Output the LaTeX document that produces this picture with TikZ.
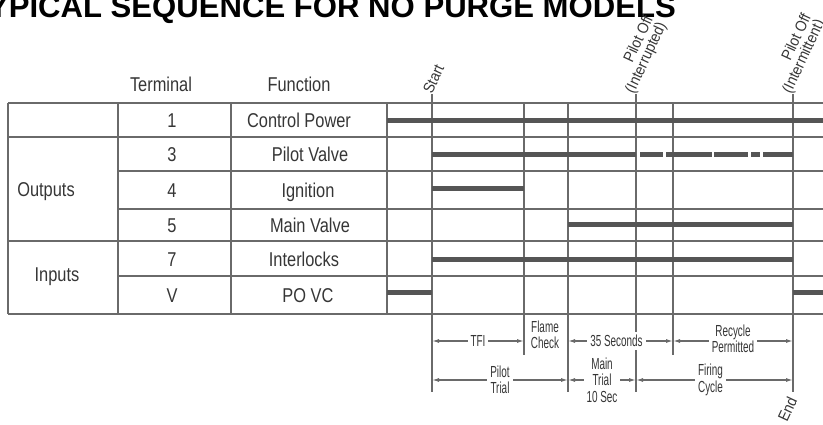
\documentclass[tikz,border=0pt]{standalone}
\usepackage{fontspec}
\setmainfont{Liberation Sans}
\newfontfamily\cellfont[FakeStretch=0.82]{Liberation Sans}
\newfontfamily\smallfont[FakeStretch=0.62]{Liberation Sans}
\newfontfamily\tagfont[FakeStretch=0.9]{Liberation Sans}
\usetikzlibrary{arrows.meta}
\definecolor{gridgray}{HTML}{6A6A6A}
\definecolor{bargray}{HTML}{555555}
\definecolor{textgray}{HTML}{363636}
\tikzset{
grid line/.style={draw=gridgray, line width=1.3pt},
signal bar/.style={draw=bargray, line width=5pt},
cell/.style={anchor=base, inner sep=0pt, text=textgray, font=\cellfont\fontsize{20}{24}\selectfont},
time tag/.style={anchor=base west, inner sep=0pt, rotate=65, align=right, text=textgray, font=\tagfont\fontsize{15.5}{14.5}\selectfont},
span/.style={draw=gridgray, line width=1.2pt, {Latex[length=7pt,width=4pt]}-{Latex[length=7pt,width=4pt]}},
span label/.style={fill=white, inner sep=3pt, align=center, text=textgray, font=\smallfont\fontsize{16}{16.5}\selectfont}
}

\begin{document}
\begin{tikzpicture}[x=1pt, y=-1pt]
    \useasboundingbox (0,0) rectangle (823,425);

                % title, cut at the top edge
                \node[anchor=base east, inner sep=0pt, font=\bfseries\fontsize{31.1}{33}\selectfont] (title) at (676,18) {TYPICAL SEQUENCE FOR NO PURGE MODELS};

                % table rules
                \draw[grid line] (8,103) -- (823,103);
                \draw[grid line] (8,137) -- (823,137);
                \draw[grid line] (118,171) -- (823,171);
                \draw[grid line] (118,209) -- (823,209);
                \draw[grid line] (8,241) -- (823,241);
                \draw[grid line] (118,276) -- (823,276);
                \draw[grid line] (8,314) -- (823,314);
                \draw[grid line] (8,103) -- (8,314);
                \draw[grid line] (118,103) -- (118,314);
                \draw[grid line] (231,103) -- (231,314);
                \draw[grid line] (387,103) -- (387,314);

                % time marks
                \draw[grid line] (432,94) -- (432,392);
                \draw[grid line] (524,103) -- (524,355);
                \draw[grid line] (568,103) -- (568,392);
                \draw[grid line] (636,94) -- (636,392);
                \draw[grid line] (673,103) -- (673,355);
                \draw[grid line] (793,94) -- (793,392);

                % headers and cells
                \node[cell] (hterm) at (161,92) {Terminal};
                \node[cell] (hfunc) at (299,92) {Function};
                \node[cell] (outputs) at (46,197) {Outputs};
                \node[cell] (inputs) at (57,282) {Inputs};

                \node[cell] (t1) at (172,127.5) {1};
                \node[cell] (t3) at (172,161.5) {3};
                \node[cell] (t4) at (172,197.5) {4};
                \node[cell] (t5) at (172,232.5) {5};
                \node[cell] (t7) at (172,266) {7};
                \node[cell] (tV) at (172,302) {V};

                \node[cell] (f1) at (299,127.5) {Control Power};
                \node[cell] (f3) at (310,161.5) {Pilot Valve};
                \node[cell] (f4) at (308,197.5) {Ignition};
                \node[cell] (f5) at (310,232.5) {Main Valve};
                \node[cell] (f7) at (304,266) {Interlocks};
                \node[cell] (fV) at (308,302) {PO VC};

                % signals
                \draw[signal bar] (387,121) -- (823,121);
                \draw[signal bar] (432,155) -- (636,155);
                \draw[signal bar] (640,155) -- (663,155);
                \draw[signal bar] (666,155) -- (712,155);
                \draw[signal bar] (714,155) -- (748,155);
                \draw[signal bar] (751,155) -- (760,155);
                \draw[signal bar] (763,155) -- (793,155);
                \draw[signal bar] (432,189) -- (524,189);
                \draw[signal bar] (568,225) -- (793,225);
                \draw[signal bar] (432,260) -- (793,260);
                \draw[signal bar] (387,292) -- (432,292);
                \draw[signal bar] (793,292) -- (823,292);

                % event tags
                \node[time tag] (start) at (432,95) {Start};
                \node[time tag, anchor=south west] (offint) at (637,96) {Pilot Off\\(Interrupted)};
                \node[time tag, anchor=south west] (offmit) at (794,96) {Pilot Off\\(Intermittent)};
                \node[time tag] (end) at (787,423) {End};

                % durations
                \coordinate (s1) at (432,341);
                \coordinate (i1) at (524,341);
                \coordinate (m1) at (568,341);
                \coordinate (r1) at (673,341);
                \coordinate (e1) at (793,341);
                \coordinate (s2) at (432,380);
                \coordinate (m2) at (568,380);
                \coordinate (p2) at (636,380);
                \coordinate (e2) at (793,380);

                \draw[span] (s1) -- (i1) node[midway, span label] (tfi) {TFI};
                \node[span label, fill=none] (flame) at (545,335) {Flame\\Check};
                \draw[span] (m1) -- (r1) node[midway, span label, xshift=-4pt] (secs) {35 Seconds};
                \draw[span] (r1) -- (e1) node[midway, span label, yshift=2pt] (recycle) {Recycle\\Permitted};
                \draw[span] (s2) -- (m2) node[midway, span label] (ptrial) {Pilot\\Trial};
                \draw[span] (m2) -- (p2) node[midway, span label] (mtrial) {Main\\Trial\\10 Sec};
                \draw[span] (p2) -- (e2) node[midway, span label, xshift=-4pt] (firing) {Firing\\Cycle};

            \end{tikzpicture}
\end{document}
